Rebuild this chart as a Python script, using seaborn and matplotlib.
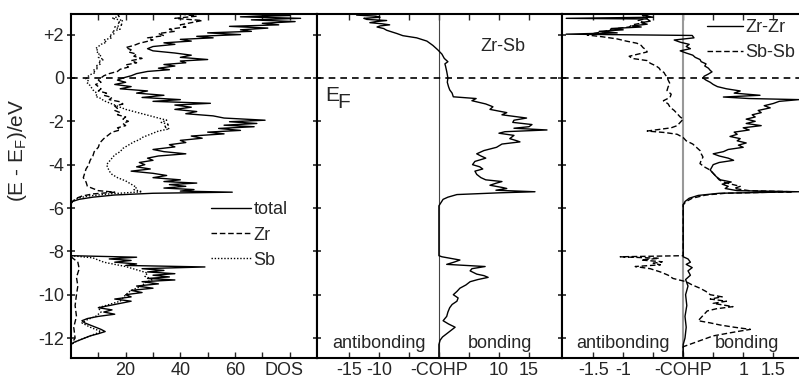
import matplotlib
matplotlib.use("Agg")
import matplotlib.pyplot as plt
import numpy as np
import seaborn as sns

# every curve is a list of (E - E_F in eV, value)

dos_total = [
    (2.95, 60), (2.88, 80), (2.82, 62), (2.75, 84), (2.68, 66), (2.60, 82), (2.52, 70),
    (2.45, 76), (2.38, 58), (2.30, 72), (2.22, 62), (2.15, 66), (2.08, 50), (2.00, 62),
    (1.92, 46), (1.85, 52), (1.78, 40), (1.70, 44), (1.62, 34), (1.55, 38), (1.45, 30),
    (1.35, 28), (1.25, 30), (1.15, 38), (1.05, 44), (0.95, 40), (0.85, 50), (0.78, 40),
    (0.70, 42), (0.62, 34), (0.55, 38), (0.45, 32), (0.38, 36), (0.30, 28), (0.20, 24),
    (0.10, 22), (0.00, 19), (-0.10, 17), (-0.20, 20), (-0.30, 16), (-0.40, 22), (-0.50, 18),
    (-0.60, 28), (-0.70, 24), (-0.80, 34), (-0.90, 26), (-1.00, 40), (-1.08, 30), (-1.17, 51),
    (-1.25, 38), (-1.35, 44), (-1.45, 38), (-1.55, 46), (-1.65, 42), (-1.75, 52), (-1.85, 56),
    (-1.95, 71), (-2.02, 58), (-2.10, 68), (-2.18, 56), (-2.25, 67), (-2.33, 54), (-2.42, 62),
    (-2.50, 50), (-2.58, 56), (-2.68, 44), (-2.78, 48), (-2.88, 40), (-2.98, 42), (-3.08, 36),
    (-3.18, 38), (-3.30, 30), (-3.40, 34), (-3.50, 42), (-3.60, 32), (-3.70, 28), (-3.80, 30),
    (-3.90, 25), (-4.00, 27), (-4.10, 24), (-4.20, 29), (-4.30, 22), (-4.40, 30), (-4.50, 35),
    (-4.60, 30), (-4.70, 40), (-4.78, 34), (-4.85, 46), (-4.92, 36), (-5.00, 42), (-5.08, 34),
    (-5.15, 45), (-5.22, 40), (-5.27, 59), (-5.32, 30), (-5.40, 16), (-5.50, 8), (-5.60, 3),
    (-5.70, 0.5), (-5.80, 0), (-8.20, 0),
    (-8.27, 24), (-8.35, 14), (-8.42, 22), (-8.50, 16), (-8.58, 24), (-8.65, 20), (-8.72, 49),
    (-8.80, 26), (-8.88, 34), (-8.95, 28), (-9.03, 38), (-9.10, 30), (-9.18, 36), (-9.25, 28),
    (-9.32, 38), (-9.40, 26), (-9.50, 32), (-9.60, 24), (-9.70, 30), (-9.80, 22), (-9.90, 26),
    (-10.00, 20), (-10.10, 22), (-10.20, 16), (-10.30, 22), (-10.40, 18), (-10.50, 14),
    (-10.60, 10), (-10.70, 15), (-10.80, 12), (-10.90, 16), (-11.00, 10), (-11.10, 6),
    (-11.20, 4), (-11.30, 5), (-11.40, 7), (-11.50, 9), (-11.60, 11), (-11.70, 12.5),
    (-11.80, 10), (-11.90, 7), (-12.00, 5), (-12.10, 3), (-12.20, 1), (-12.30, 0), (-12.90, 0),
]

dos_zr = [
    (2.95, 40), (2.85, 46), (2.75, 38), (2.65, 48), (2.55, 44), (2.45, 40), (2.35, 42),
    (2.25, 36), (2.15, 38), (2.05, 32), (1.95, 34), (1.85, 28), (1.75, 30), (1.60, 25),
    (1.50, 23), (1.40, 20), (1.30, 22), (1.20, 21), (1.10, 24), (1.00, 23), (0.90, 26),
    (0.80, 22), (0.70, 24), (0.60, 20), (0.50, 21), (0.40, 18), (0.30, 17), (0.20, 14),
    (0.10, 12), (0.00, 11), (-0.10, 10), (-0.20, 11), (-0.30, 9), (-0.40, 10), (-0.50, 11),
    (-0.60, 10), (-0.70, 13), (-0.80, 12), (-0.90, 15), (-1.00, 14), (-1.10, 18), (-1.20, 19),
    (-1.30, 16), (-1.40, 17), (-1.50, 16), (-1.60, 18), (-1.70, 17), (-1.80, 20), (-1.90, 19),
    (-2.00, 21), (-2.10, 19), (-2.20, 20), (-2.30, 17), (-2.40, 18), (-2.50, 15), (-2.60, 14),
    (-2.80, 12), (-3.00, 10.5), (-3.20, 10), (-3.40, 8.5), (-3.60, 8), (-3.80, 7), (-4.00, 6.5),
    (-4.20, 5.5), (-4.40, 5), (-4.60, 4.5), (-4.80, 5.5), (-5.00, 6), (-5.10, 8), (-5.20, 10),
    (-5.27, 16), (-5.35, 8), (-5.45, 4), (-5.55, 2), (-5.70, 0.5), (-5.80, 0), (-8.20, 0),
    (-8.30, 0.5), (-8.50, 2.5), (-8.80, 3), (-9.20, 2), (-9.60, 2.5), (-10.00, 2),
    (-10.50, 1.5), (-11.00, 2), (-11.50, 1), (-12.00, 1.5), (-12.30, 0), (-12.90, 0),
]

dos_sb = [
    (2.95, 16), (2.85, 18), (2.75, 15), (2.65, 19), (2.55, 17), (2.45, 19), (2.35, 16),
    (2.25, 18), (2.15, 15), (2.05, 16), (1.95, 14), (1.85, 15), (1.75, 12), (1.65, 13),
    (1.55, 11), (1.45, 10), (1.35, 9), (1.25, 10), (1.15, 9.5), (1.05, 11), (0.95, 10),
    (0.85, 12), (0.75, 10), (0.65, 11), (0.55, 9), (0.45, 10), (0.35, 8), (0.25, 9),
    (0.15, 7), (0.05, 6), (-0.05, 5.5), (-0.15, 6.5), (-0.25, 6), (-0.35, 7), (-0.45, 7.5),
    (-0.55, 8), (-0.65, 9), (-0.75, 9.5), (-0.85, 9), (-0.95, 11), (-1.05, 12), (-1.15, 14),
    (-1.25, 16), (-1.35, 18), (-1.45, 20), (-1.55, 23), (-1.65, 26), (-1.75, 29), (-1.85, 32),
    (-1.95, 35), (-2.05, 33), (-2.15, 36), (-2.25, 34), (-2.35, 36), (-2.45, 32), (-2.55, 30),
    (-2.65, 28), (-2.75, 26), (-2.85, 25), (-2.95, 23), (-3.10, 21), (-3.25, 19), (-3.40, 18),
    (-3.55, 16), (-3.70, 15), (-3.85, 14), (-4.00, 13), (-4.15, 13.5), (-4.30, 14),
    (-4.45, 15), (-4.60, 17), (-4.75, 20), (-4.90, 22), (-5.05, 24), (-5.15, 23), (-5.25, 26),
    (-5.35, 14), (-5.45, 6), (-5.55, 2.5), (-5.70, 0.5), (-5.80, 0), (-8.20, 0),
    (-8.30, 8), (-8.50, 12), (-8.70, 20), (-8.85, 24), (-9.00, 28), (-9.15, 27), (-9.30, 30),
    (-9.45, 27), (-9.60, 26), (-9.80, 22), (-10.00, 20), (-10.15, 19), (-10.30, 18),
    (-10.45, 14), (-10.60, 10), (-10.80, 11), (-11.00, 9), (-11.15, 6), (-11.30, 4),
    (-11.50, 7), (-11.70, 11), (-11.85, 8), (-12.00, 5), (-12.15, 2), (-12.30, 0), (-12.90, 0),
]

cohp_zrsb = [
    (2.95, -11.5), (2.90, -13.7), (2.85, -10.5), (2.80, -9.8), (2.75, -12.5), (2.70, -12),
    (2.65, -8.7), (2.60, -10.5), (2.55, -11.5), (2.50, -9.5), (2.45, -8.2), (2.40, -9.8),
    (2.35, -10.3), (2.28, -9.2), (2.20, -8.7), (2.12, -7.8), (2.05, -7), (1.95, -6),
    (1.85, -3.7), (1.70, -2), (1.50, -1), (1.30, -0.2), (1.10, 0.5), (0.90, 0.9), (0.75, 1.5),
    (0.65, 1.0), (0.55, 1.1), (0.30, 1.3), (0.00, 1.5), (-0.20, 1.4), (-0.40, 1.6),
    (-0.55, 1.8), (-0.70, 2.2), (-0.87, 2.4), (-0.95, 6.2), (-1.05, 5.5), (-1.20, 7.8),
    (-1.33, 9), (-1.45, 8.5), (-1.60, 11.3), (-1.70, 10.5), (-1.85, 14.6), (-1.95, 12.5),
    (-2.05, 12.3), (-2.15, 15.5), (-2.25, 15), (-2.32, 12.5), (-2.40, 18), (-2.48, 11),
    (-2.55, 10), (-2.65, 12.5), (-2.80, 11.8), (-2.90, 13), (-2.95, 13.5), (-3.05, 10.5),
    (-3.20, 9.6), (-3.35, 7.5), (-3.50, 6.3), (-3.60, 7), (-3.70, 7.8), (-3.85, 6),
    (-4.00, 5.6), (-4.10, 6.8), (-4.20, 7.3), (-4.30, 6), (-4.45, 6.3), (-4.60, 7),
    (-4.70, 7.8), (-4.78, 10.5), (-4.85, 9.6), (-4.95, 8.5), (-5.05, 10.5), (-5.10, 11.3),
    (-5.18, 9.5), (-5.25, 16), (-5.30, 10), (-5.38, 3), (-5.50, 1.5), (-5.60, 0.7),
    (-5.90, 0), (-8.20, 0),
    (-8.25, 0.5), (-8.40, 3.5), (-8.50, 2.5), (-8.60, 1.3), (-8.70, 7.7), (-8.80, 5.5),
    (-8.90, 5.2), (-9.05, 6.3), (-9.12, 7.5), (-9.20, 8.2), (-9.30, 6.5), (-9.40, 5.2),
    (-9.55, 4.5), (-9.70, 3.5), (-9.85, 3.0), (-10.00, 2.4), (-10.15, 3.2), (-10.30, 3),
    (-10.45, 2.2), (-10.60, 1.8), (-10.80, 1.5), (-11.00, 1.3), (-11.20, 0.7), (-11.35, 1.6),
    (-11.50, 2.7), (-11.65, 2.0), (-11.80, 1.3), (-11.95, 0.6), (-12.10, 0.2), (-12.30, 0),
    (-12.90, 0),
]

cohp_zrzr = [
    (2.95, -0.55), (2.88, -0.65), (2.80, -0.5), (2.75, -1.95), (2.72, -0.6), (2.62, -0.55),
    (2.55, -0.7), (2.48, -0.6), (2.40, -0.85), (2.35, -0.7), (2.28, -1.2), (2.22, -1.0),
    (2.15, -1.4), (2.08, -1.1), (2.02, -1.95), (1.96, 0.15), (1.85, 0.18), (1.75, -0.15),
    (1.65, -0.05), (1.55, 0.1), (1.45, 0.05), (1.35, 0.12), (1.25, -0.05), (1.15, 0.05),
    (1.05, 0.16), (0.95, 0.2), (0.85, 0.28), (0.75, 0.3), (0.65, 0.38), (0.55, 0.36),
    (0.45, 0.42), (0.35, 0.45), (0.28, 0.48), (0.18, 0.42), (0.08, 0.35), (0.00, 0.33),
    (-0.10, 0.38), (-0.20, 0.45), (-0.30, 0.5), (-0.40, 0.57), (-0.50, 0.72), (-0.60, 0.95),
    (-0.70, 0.85), (-0.80, 1.28), (-0.88, 0.67), (-0.95, 1.1), (-1.00, 1.93), (-1.08, 1.6),
    (-1.18, 1.5), (-1.28, 1.35), (-1.38, 1.45), (-1.50, 1.25), (-1.60, 1.3), (-1.70, 1.15),
    (-1.80, 1.2), (-1.90, 1.05), (-2.00, 1.2), (-2.10, 1.05), (-2.20, 1.3), (-2.30, 1.0),
    (-2.40, 1.1), (-2.50, 0.85), (-2.60, 0.9), (-2.70, 0.78), (-2.80, 0.95), (-2.90, 0.9),
    (-3.00, 1.05), (-3.10, 0.92), (-3.20, 1.0), (-3.30, 0.75), (-3.40, 0.67), (-3.50, 0.5),
    (-3.60, 0.6), (-3.70, 0.75), (-3.80, 0.84), (-3.90, 0.6), (-4.00, 0.5), (-4.10, 0.48),
    (-4.25, 0.45), (-4.40, 0.5), (-4.55, 0.55), (-4.70, 0.62), (-4.80, 0.8), (-4.90, 0.65),
    (-5.00, 0.75), (-5.10, 0.7), (-5.20, 0.9), (-5.25, 1.93), (-5.32, 0.6), (-5.42, 0.25),
    (-5.55, 0.1), (-5.70, 0.03), (-5.85, 0), (-8.25, 0),
    (-8.35, 0.08), (-8.50, 0.12), (-8.60, 0.05), (-8.75, 0.15), (-8.90, 0.08), (-9.10, 0.12),
    (-9.30, 0.04), (-9.60, 0.08), (-10.00, 0.04), (-10.50, 0.06), (-11.00, 0.03),
    (-11.50, 0.05), (-12.00, 0.03), (-12.30, 0), (-12.90, 0),
]

cohp_sbsb = [
    (2.95, -0.6), (2.85, -0.7), (2.75, -0.6), (2.65, -0.75), (2.55, -0.65), (2.45, -0.85),
    (2.35, -0.9), (2.25, -1.2), (2.15, -1.3), (2.05, -1.5), (1.98, -1.6), (1.90, -1.35),
    (1.80, -1.1), (1.70, -0.95), (1.60, -0.77), (1.50, -0.7), (1.40, -0.67), (1.30, -0.62),
    (1.20, -0.6), (1.10, -0.75), (1.00, -0.9), (0.90, -0.85), (0.80, -0.6), (0.68, -0.55),
    (0.55, -0.45), (0.45, -0.4), (0.36, -0.38), (0.25, -0.32), (0.15, -0.3), (0.05, -0.27),
    (-0.10, -0.25), (-0.27, -0.22), (-0.40, -0.25), (-0.58, -0.27), (-0.75, -0.2),
    (-0.90, -0.22), (-1.05, -0.33), (-1.20, -0.25), (-1.35, -0.22), (-1.50, -0.15),
    (-1.65, -0.1), (-1.80, -0.05), (-1.90, 0.0), (-2.05, -0.05), (-2.20, -0.1), (-2.30, -0.2),
    (-2.45, -0.6), (-2.52, -0.3), (-2.60, -0.1), (-2.75, 0.0), (-2.90, 0.05), (-3.05, 0.16),
    (-3.20, 0.22), (-3.35, 0.28), (-3.50, 0.3), (-3.65, 0.33), (-3.80, 0.3), (-3.95, 0.28),
    (-4.10, 0.35), (-4.25, 0.45), (-4.40, 0.5), (-4.55, 0.55), (-4.70, 0.6), (-4.80, 0.67),
    (-4.90, 0.8), (-5.00, 0.95), (-5.10, 0.85), (-5.20, 1.1), (-5.25, 1.83), (-5.32, 0.7),
    (-5.40, 0.38), (-5.55, 0.15), (-5.70, 0.05), (-5.85, 0), (-8.20, 0),
    (-8.25, -1.05), (-8.32, -0.4), (-8.40, -0.7), (-8.48, -0.35), (-8.55, -0.5),
    (-8.62, -0.38), (-8.70, -0.8), (-8.80, -0.55), (-8.95, -0.38), (-9.10, -0.25),
    (-9.25, -0.17), (-9.40, 0.05), (-9.55, 0.15), (-9.70, 0.28), (-9.85, 0.38), (-10.00, 0.45),
    (-10.10, 0.65), (-10.20, 0.45), (-10.30, 0.72), (-10.40, 0.5), (-10.55, 0.83),
    (-10.65, 0.55), (-10.75, 0.4), (-10.90, 0.35), (-11.05, 0.3), (-11.20, 0.25),
    (-11.30, 0.45), (-11.40, 0.62), (-11.50, 0.85), (-11.60, 1.12), (-11.70, 0.9),
    (-11.80, 0.7), (-11.90, 0.5), (-12.05, 0.35), (-12.20, 0.2), (-12.30, 0.1), (-12.40, 0),
    (-12.90, 0),
]

energy_ticks = [-12, -10, -8, -6, -4, -2, 0, 2]
energy_labels = ["-12", "-10", "-8", "-6", "-4", "-2", "0", "+2"]
dos_ticks = [20, 40, 60, 78]
dos_labels = ["20", "40", "60", "DOS"]
zrsb_ticks = [-15, -10, 0, 10, 15]
zrsb_labels = ["-15", "-10", "-COHP", "10", "15"]
homo_ticks = [-1.5, -1, 0, 1, 1.5]
homo_labels = ["-1.5", "-1", "-COHP", "1", "1.5"]

sns.set_style("ticks")
plt.rcParams["font.family"] = ["Liberation Sans", "DejaVu Sans"]
plt.rcParams["font.size"] = 13
plt.rcParams["axes.linewidth"] = 1.5


def trace(ax, pts, **kw):
    """Draw one curve, value on x, energy on y."""
    e, v = np.array(pts).T
    sns.lineplot(x=v, y=e, sort=False, estimator=None, ax=ax, color="black", **kw)


def style_axis(ax, xlim, ticks, labels, minor, show_ylabels=False):
    ax.set_xlim(*xlim)
    ax.set_ylim(-12.92, 2.95)
    ax.set_xticks(ticks)
    ax.set_xticklabels(labels)
    ax.set_xticks(minor, minor=True)
    ax.tick_params(axis="x", which="both", direction="in", top=True, length=4,
                   width=1.0, pad=3, labelsize=13)
    ax.set_yticks(energy_ticks)
    ax.tick_params(axis="y", direction="inout", length=6, width=1.2, pad=2, labelsize=13)
    if show_ylabels:
        ax.set_yticklabels(energy_labels)
    else:
        ax.set_yticklabels([])
    for s in ax.spines.values():
        s.set_color("black")
    ax.axhline(0, color="black", lw=1.2, ls=(0, (4, 3)), zorder=1)
    ax.set_xlabel("")
    ax.set_ylabel("")


fig = plt.figure(figsize=(7.99, 3.81), dpi=100)
bottom, height = 23 / 381, 344 / 381
ax1 = fig.add_axes([71 / 799, bottom, 246 / 799, height])
ax2 = fig.add_axes([317 / 799, bottom, 245 / 799, height])
ax3 = fig.add_axes([562 / 799, bottom, 237 / 799, height])

# DOS panel
trace(ax1, dos_sb, lw=1.0, ls=(0, (1, 1.3)), label="Sb")
trace(ax1, dos_zr, lw=1.0, ls=(0, (4, 2)), label="Zr")
trace(ax1, dos_total, lw=1.0, label="total")
style_axis(ax1, (0, 90), dos_ticks, dos_labels, [10, 30, 50, 70, 80], show_ylabels=True)
t = ax1.xaxis.get_major_ticks()[3]
t.tick1line.set_visible(False)
t.tick2line.set_visible(False)
ax1.set_ylabel("(E - E$_\\mathregular{F}$)/eV", fontsize=15)
ax1.yaxis.set_label_coords(-0.172, 0.605)
h, l = ax1.get_legend_handles_labels()
order = [2, 1, 0]
ax1.legend([h[i] for i in order], [l[i] for i in order], frameon=False,
           loc="upper left", bbox_to_anchor=(0.57, 0.455), borderpad=0, borderaxespad=0,
           handlelength=2.2, handletextpad=0.15, labelspacing=0.45, fontsize=13)

# Zr-Sb COHP panel
ax2.axvline(0, color="#444444", lw=0.8, zorder=1)
trace(ax2, cohp_zrsb, lw=1.0)
style_axis(ax2, (-20.3, 20.5), zrsb_ticks, zrsb_labels, [-5, 5])
ax2.text(10.7, 1.43, "Zr-Sb", ha="center", va="center", fontsize=13)
ax2.text(-19.0, -1.25, "E", ha="left", va="bottom", fontsize=15)
ax2.text(-17.0, -1.57, "F", ha="left", va="bottom", fontsize=15)
ax2.text(-10.0, -12.27, "antibonding", ha="center", va="center", fontsize=13)
ax2.text(10.2, -12.27, "bonding", ha="center", va="center", fontsize=13)

# Zr-Zr / Sb-Sb COHP panel
ax3.axvline(0, color="#999999", lw=1.5, zorder=1)
trace(ax3, cohp_zrzr, lw=1.0, label="Zr-Zr")
trace(ax3, cohp_sbsb, lw=1.0, ls=(0, (4, 2)), label="Sb-Sb")
style_axis(ax3, (-2.02, 1.93), homo_ticks, homo_labels, [-0.5, 0.5])
ax3.spines["right"].set_visible(False)
ax3.text(-1.0, -12.27, "antibonding", ha="center", va="center", fontsize=13)
ax3.text(1.07, -12.27, "bonding", ha="center", va="center", fontsize=13)
ax3.legend(frameon=False, loc="upper left", bbox_to_anchor=(0.61, 0.985), borderpad=0,
           borderaxespad=0, handlelength=2.0, handletextpad=0.15, labelspacing=0.45,
           fontsize=13)

fig.savefig("out.png", dpi=100)
plt.close(fig)
